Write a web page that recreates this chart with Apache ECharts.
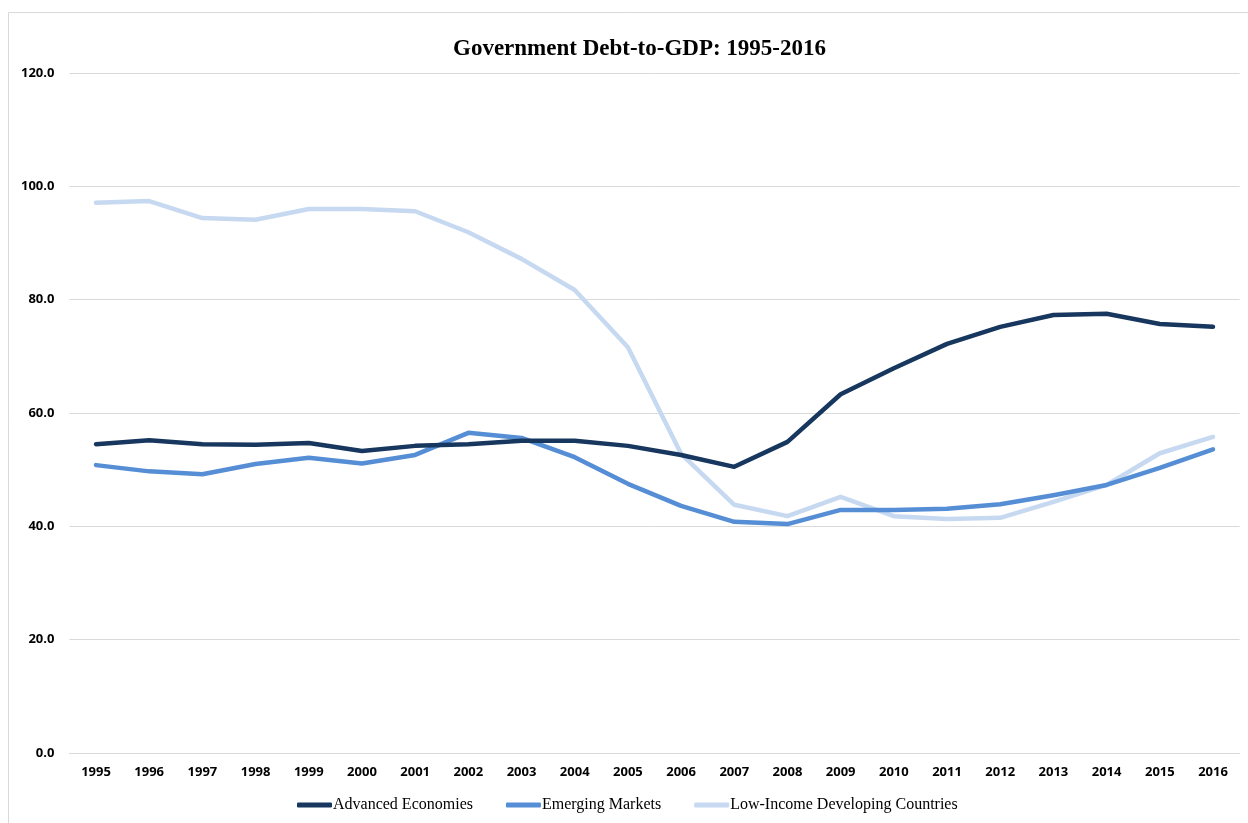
<!DOCTYPE html>
<html><head><meta charset="utf-8">
<script src="https://cdn.jsdelivr.net/npm/echarts@6/dist/echarts.min.js"></script>
<style>html,body{margin:0;padding:0;background:#fff}#c{width:1248px;height:823px}</style>
</head><body><div id="c"></div>
<script>
var years = ['1995','1996','1997','1998','1999','2000','2001','2002','2003','2004','2005','2006','2007','2008','2009','2010','2011','2012','2013','2014','2015','2016'];
var advanced = [54.5,55.2,54.5,54.4,54.7,53.3,54.2,54.5,55.1,55.1,54.2,52.6,50.5,54.9,63.3,67.9,72.2,75.2,77.3,77.5,75.7,75.2];
var emerging = [50.8,49.7,49.2,51.0,52.1,51.1,52.6,56.5,55.6,52.2,47.5,43.6,40.8,40.4,42.9,42.9,43.1,43.9,45.5,47.3,50.3,53.6];
var lowIncome = [97.1,97.4,94.4,94.1,96.0,96.0,95.6,91.9,87.2,81.7,71.6,52.8,43.8,41.8,45.2,41.8,41.3,41.5,44.3,47.3,52.9,55.8];
var seriesNames = ['Advanced Economies','Emerging Markets','Low-Income Developing Countries'];
var colors = ['#17375e','#558ed5','#c6d9f1'];

var chart = echarts.init(document.getElementById('c'), null, {renderer:'canvas'});
var mk = function(name, data, color, z){
  return {name:name, type:'line', data:data, symbol:'none', z:z,
    lineStyle:{width:4.5, color:color, cap:'round', join:'round'}, itemStyle:{color:color}};
};
chart.setOption({
  animation:false,
  backgroundColor:'#fff',
  graphic:[{type:'rect', shape:{x:8.5,y:12.5,width:1246,height:820}, style:{fill:'none', stroke:'#d9d9d9', lineWidth:1}, silent:true}],
  title:{text:'Government Debt-to-GDP: 1995-2016', left:448, top:33,
    textStyle:{fontFamily:'Liberation Serif', fontWeight:'bold', fontSize:23, color:'#000'}},
  legend:{bottom:5, left:292, itemWidth:35, itemHeight:5, itemGap:33, icon:'roundRect',
    textStyle:{fontFamily:'Liberation Serif', fontSize:16, color:'#000', padding:[0,0,0,-4]},
    data:seriesNames},
  grid:{left:69.4, right:8.4, top:73, bottom:70, containLabel:false},
  xAxis:{type:'category', data:years, boundaryGap:true,
    axisLine:{show:true, lineStyle:{color:'#d9d9d9', width:1}}, axisTick:{show:false},
    axisLabel:{fontFamily:'Open Sans', fontWeight:'bold', fontSize:13, color:'#000', margin:13, interval:0}},
  yAxis:{type:'value', min:0, max:120, interval:20,
    axisLine:{show:false}, axisTick:{show:false},
    splitLine:{lineStyle:{color:'#d9d9d9', width:1}},
    axisLabel:{fontFamily:'Open Sans', fontWeight:'bold', fontSize:13, color:'#000', margin:15,
      formatter:function(v){return v.toFixed(1);}}},
  series:[mk(seriesNames[0], advanced, colors[0], 3), mk(seriesNames[1], emerging, colors[1], 2), mk(seriesNames[2], lowIncome, colors[2], 1)]
});
</script></body></html>
